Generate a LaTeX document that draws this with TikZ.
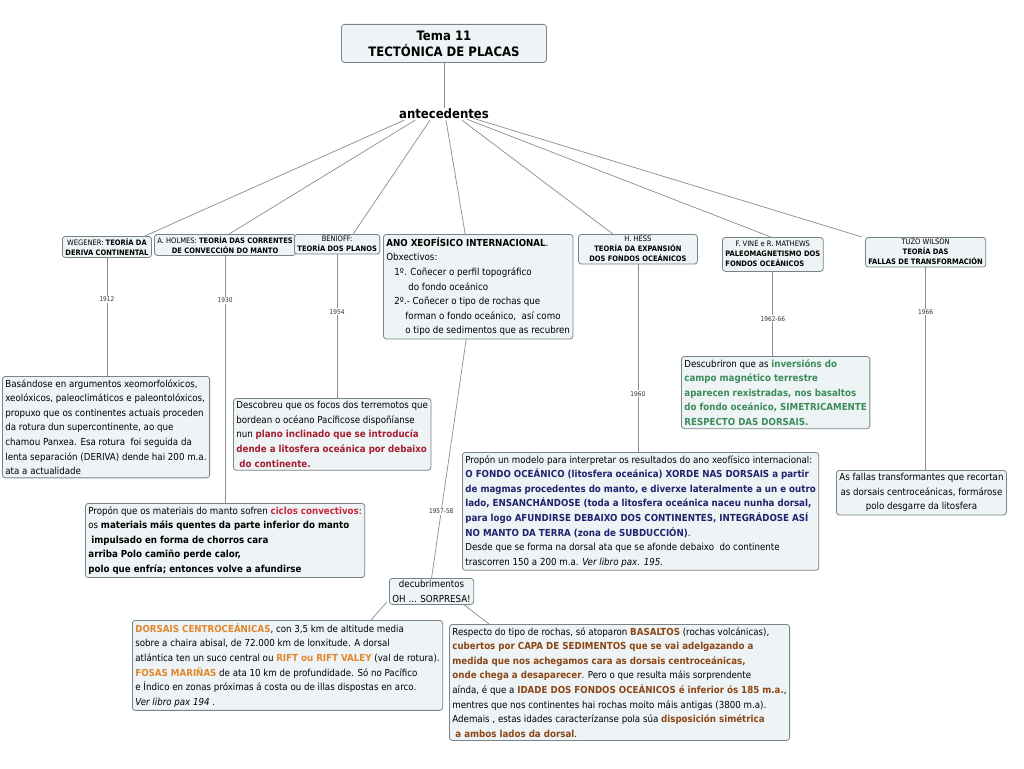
\documentclass[tikz,border=0pt]{standalone}
\usepackage{fontspec}
\setmainfont{DejaVu Sans Condensed}
\usetikzlibrary{calc}
\definecolor{boxc}{RGB}{238,243,245}
\definecolor{bordc}{RGB}{120,132,137}
\definecolor{linec}{RGB}{140,140,140}
\definecolor{redc}{RGB}{200,40,60}
\definecolor{dredc}{RGB}{165,30,45}
\definecolor{greenc}{RGB}{60,140,90}
\definecolor{bluec}{RGB}{30,35,110}
\definecolor{orangec}{RGB}{225,135,45}
\definecolor{brownc}{RGB}{140,70,20}
\newcommand\bodyf{\fontsize{9.65}{14.6}\selectfont}
\newcommand\smallf{\fontsize{7.5}{10}\selectfont}
\newcommand\OR[1]{\textcolor{orangec}{\textbf{#1}}}
\newcommand\BR[1]{\textcolor{brownc}{\textbf{#1}}}
\newcommand\BL[1]{\textcolor{bluec}{\textbf{#1}}}
\newcommand\GR[1]{\textcolor{greenc}{\textbf{#1}}}
\newcommand\DR[1]{\textcolor{dredc}{\textbf{#1}}}
\begin{document}
\begin{tikzpicture}[x=1pt,y=-1pt,
  box/.style={draw=bordc, fill=boxc, rounded corners=3pt, inner xsep=3pt, inner ysep=3pt, font=\bodyf, align=left, anchor=north west, line width=0.8pt},
  sbox/.style={box, font=\smallf, align=center, inner ysep=2pt},
  conn/.style={draw=linec, line width=0.7pt},
  year/.style={font=\fontsize{6.5}{8}\selectfont, fill=white, inner sep=1pt, text=black!80}]
\fill[white] (0,0) rectangle (1024,768);
\useasboundingbox (0,0) rectangle (1024,768);

% title
\node[draw=bordc, fill=boxc, rounded corners=3pt, line width=0.8pt, anchor=north, minimum width=205pt, minimum height=38pt, align=center, font=\fontsize{13}{16}\selectfont\bfseries] (title) at (444,24) {Tema 11\\TECTÓNICA DE PLACAS};
\node[font=\fontsize{13}{16}\selectfont\bfseries, inner sep=1pt] (ant) at (444,114) {antecedentes};
\draw[conn] (title.south) -- (ant.north);

% first level
\node[sbox] (weg) at (62,236) {WEGENER: \textbf{TEORÍA DA}\\\textbf{DERIVA CONTINENTAL}};
\node[sbox] (hol) at (154,234) {A. HOLMES: \textbf{TEORÍA DAS CORRENTES}\\\textbf{DE CONVECCIÓN DO MANTO}};
\node[sbox] (ben) at (294,234) {BENIOFF:\\\textbf{TEORÍA DOS PLANOS}};
\node[box, inner ysep=3pt] (ano) at (383,234) {\textbf{ANO XEOFÍSICO INTERNACIONAL}.\\Obxectivos:\\\hspace*{8pt}1º. Coñecer o perfil topográfico\\\hspace*{22pt}do fondo oceánico\\\hspace*{8pt}2º.- Coñecer o tipo de rochas que\\\hspace*{19pt}forman o fondo oceánico,\ \ así como\\\hspace*{19pt}o tipo de sedimentos que as recubren};
\node[sbox, minimum width=119pt] (hess) at (578,234) {H. HESS\\\textbf{TEORÍA DA EXPANSIÓN}\\\textbf{DOS FONDOS OCEÁNICOS}};
\node[sbox] (vine) at (722,237) {\begin{tabular}{@{}l@{}}\multicolumn{1}{@{}c@{}}{F. VINE e R. MATHEWS}\\\textbf{PALEOMAGNETISMO DOS}\\\textbf{FONDOS OCEÁNICOS}\end{tabular}};
\node[sbox] (tuzo) at (865,237) {TUZO WILSON\\\textbf{TEORÍA DAS}\\\textbf{FALLAS DE TRANSFORMACIÓN}};

\draw[conn] ($(ant.south)+(-40,0)$) -- ($(weg.north east)+(-7,0)$);
\draw[conn] ($(ant.south)+(-29,0)$) -- ($(hol.north)+(4,0)$);
\draw[conn] ($(ant.south)+(-14,0)$) -- ($(ben.north)+(16,0)$);
\draw[conn] ($(ant.south)+(2,0)$) -- ($(ano.north)+(-13,0)$);
\draw[conn] ($(ant.south)+(18,0)$) -- ($(hess.north)+(-25,0)$);
\draw[conn] ($(ant.south)+(23,-1)$) -- ($(vine.north)+(-2,0)$);
\draw[conn] ($(ant.south)+(29,-2)$) -- ($(tuzo.north west)+(-3,0)$);

% second level
\node[box] (bas) at (2,376) {Basándose en argumentos xeomorfolóxicos,\\xeolóxicos, paleoclimáticos e paleontolóxicos,\\propuxo que os continentes actuais proceden\\da rotura dun supercontinente, ao que\\chamou Panxea. Esa rotura\ \ foi seguida da\\lenta separación (DERIVA) dende hai 200 m.a.\\ata a actualidade};
\node[box] (des) at (233,398) {Descobreu que os focos dos terremotos que\\bordean o océano Pacíficose dispoñíanse\\nun \DR{plano inclinado que se introducía}\\\DR{dende a litosfera oceánica por debaixo}\\\DR{\ do continente.}};
\node[box] (pq) at (85,503) {Propón que os materiais do manto sofren \textcolor{redc}{\textbf{ciclos convectivos}}:\\os \textbf{materiais máis quentes da parte inferior do manto}\\\textbf{\ impulsado en forma de chorros cara}\\\textbf{arriba Polo camiño perde calor,}\\\textbf{polo que enfría; entonces volve a afundirse}};
\node[box] (dsc) at (681,356) {Descubriron que as \GR{inversións do}\\\GR{campo magnético terrestre}\\\GR{aparecen rexistradas, nos basaltos}\\\GR{do fondo oceánico, SIMETRICAMENTE}\\\GR{RESPECTO DAS DORSAIS.}};
\node[box] (mod) at (462,452) {Propón un modelo para interpretar os resultados do ano xeofísico internacional:\\\BL{O FONDO OCEÁNICO (litosfera oceánica) XORDE NAS DORSAIS a partir}\\\BL{de magmas procedentes do manto, e diverxe lateralmente a un e outro}\\\BL{lado, ENSANCHÁNDOSE (toda a litosfera oceánica naceu nunha dorsal,}\\\BL{para logo AFUNDIRSE DEBAIXO DOS CONTINENTES, INTEGRÁDOSE ASÍ}\\\BL{NO MANTO DA TERRA (zona de SUBDUCCIÓN)}.\\Desde que se forma na dorsal ata que se afonde debaixo\ \ do continente\\trascorren 150 a 200 m.a. \textit{Ver libro pax. 195.}};
\node[box, align=center] (fal) at (836,470) {As fallas transformantes que recortan\\as dorsais centroceánicas, formárose\\polo desgarre da litosfera};

\draw[conn] (weg.south) -- node[year, pos=0.35] {1912} (weg.south |- bas.north);
\draw[conn] (hol.south) -- node[year, pos=0.18] {1930} (hol.south |- pq.north);
\draw[conn] (ben.south) -- node[year, pos=0.4] {1954} (ben.south |- des.north);
\draw[conn] (hess.south) -- node[year, pos=0.69] {1960} (hess.south |- mod.north);
\draw[conn] (vine.south) -- node[year, pos=0.56] {1962-66} (vine.south |- dsc.north);
\draw[conn] (tuzo.south) -- node[year, pos=0.22] {1966} (tuzo.south |- fal.north);

% third level
\node[box, align=center, inner ysep=2pt] (dec) at (389,578) {decubrimentos\\OH ... SORPRESA!};
\draw[conn] ($(ano.south)+(-12,0)$) -- node[year, pos=0.72] {1957-58} (dec.north);
\node[box] (dor) at (132,620) {\OR{DORSAIS CENTROCEÁNICAS}, con 3,5 km de altitude media\\sobre a chaira abisal, de 72.000 km de lonxitude. A dorsal\\atlántica ten un suco central ou \OR{RIFT ou RIFT VALEY} (val de rotura).\\\OR{FOSAS MARIÑAS} de ata 10 km de profundidade. Só no Pacífico\\e Índico en zonas próximas á costa ou de illas dispostas en arco.\\\textit{Ver libro pax 194} .};
\node[box] (res) at (449,624) {Respecto do tipo de rochas, só atoparon \BR{BASALTOS} (rochas volcánicas),\\\BR{cubertos por CAPA DE SEDIMENTOS que se vai adelgazando a}\\\BR{medida que nos achegamos cara as dorsais centroceánicas,}\\\BR{onde chega a desaparecer}. Pero o que resulta máis sorprendente\\aínda, é que a \BR{IDADE DOS FONDOS OCEÁNICOS é inferior ós 185 m.a.},\\mentres que nos continentes hai rochas moito máis antigas (3800 m.a).\\Ademais , estas idades caracterízanse pola súa \BR{disposición simétrica}\\\BR{\ a ambos lados da dorsal}.};
\draw[conn] ($(dec.south west)+(-2,-3)$) -- ($(dor.north east)+(-72,0)$);
\draw[conn] ($(dec.south east)+(-10,0)$) -- ($(res.north west)+(40,0)$);
\end{tikzpicture}
\end{document}
